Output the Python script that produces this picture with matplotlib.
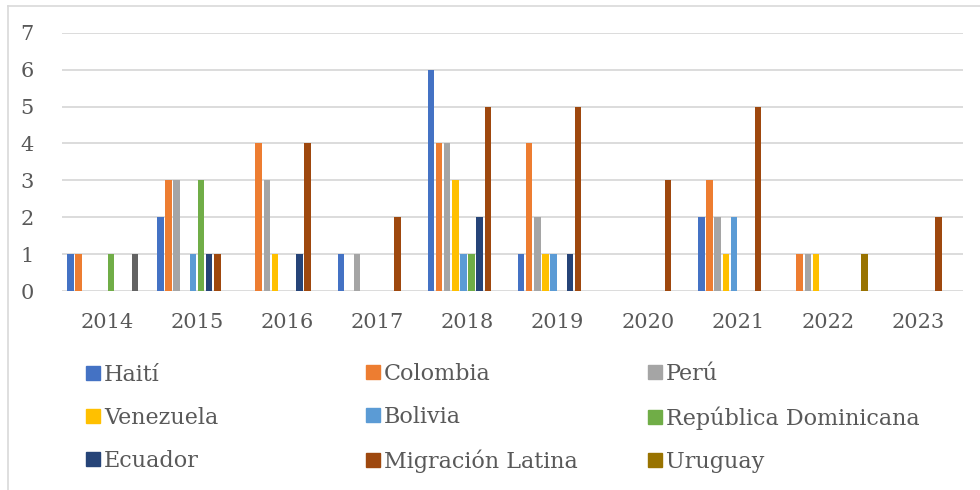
import numpy as np
import matplotlib.pyplot as plt
from matplotlib.lines import Line2D

years = ['2014', '2015', '2016', '2017', '2018', '2019', '2020', '2021', '2022', '2023']

# series in Excel order; 'Otro' is the unlabeled dark gray series
series_names = ['Haití', 'Colombia', 'Perú', 'Venezuela', 'Bolivia',
                'República Dominicana', 'Ecuador', 'Migración Latina', 'Otro', 'Uruguay']
series_colors = ['#4472C4', '#ED7D31', '#A5A5A5', '#FFC000', '#5B9BD5',
                 '#70AD47', '#264478', '#9E480E', '#636363', '#997300']

haiti     = [1, 2, 0, 1, 6, 1, 0, 2, 0, 0]
colombia  = [1, 3, 4, 0, 4, 4, 0, 3, 1, 0]
peru      = [0, 3, 3, 1, 4, 2, 0, 2, 1, 0]
venezuela = [0, 0, 1, 0, 3, 1, 0, 1, 1, 0]
bolivia   = [0, 1, 0, 0, 1, 1, 0, 2, 0, 0]
rep_dom   = [1, 3, 0, 0, 1, 0, 0, 0, 0, 0]
ecuador   = [0, 1, 1, 0, 2, 1, 0, 0, 0, 0]
migracion = [0, 1, 4, 2, 5, 5, 3, 5, 0, 2]
otro      = [1, 0, 0, 0, 0, 0, 0, 0, 0, 0]
uruguay   = [0, 0, 0, 0, 0, 0, 0, 0, 1, 0]

values = [haiti, colombia, peru, venezuela, bolivia,
          rep_dom, ecuador, migracion, otro, uruguay]

txt = '#595959'
plt.rcParams['font.family'] = ['DejaVu Serif']

fig = plt.figure(figsize=(9.8, 4.9), dpi=100)
ax = fig.add_axes([0.063, 0.406, 0.92, 0.527])

x = np.arange(len(years))
step = 0.09
for i, (vals, col) in enumerate(zip(values, series_colors)):
    ax.bar(x + (i - 4.5) * step, vals, width=0.072, color=col, zorder=3)

ax.set_xlim(-0.5, len(years) - 0.5)
ax.set_ylim(0, 7)
ax.set_yticks(range(0, 8))
ax.set_xticks(x)
ax.set_xticklabels(years)
ax.tick_params(length=0, labelsize=15, colors=txt)
ax.tick_params(axis='x', pad=16)
ax.tick_params(axis='y', pad=20)
ax.grid(axis='y', color='#D9D9D9', linewidth=1.3, zorder=0)
for s in ax.spines.values():
    s.set_visible(False)

# legend: 3 equal-width columns, filled row by row
shown = [i for i, n in enumerate(series_names) if n != 'Otro']
col_x = [86, 366, 648]
for c in range(3):
    idx = [shown[r * 3 + c] for r in range(3)]
    handles = [Line2D([], [], marker='s', linestyle='', markersize=9.5,
                      markerfacecolor=series_colors[i], markeredgecolor=series_colors[i])
               for i in idx]
    fig.legend(handles, [series_names[i] for i in idx], loc='center left',
               bbox_to_anchor=(col_x[c] / 980, 1 - 418 / 490),
               frameon=False, fontsize=16, labelcolor=txt, handlelength=0.6,
               handletextpad=0.2, labelspacing=0.95, borderpad=0,
               borderaxespad=0)

# chart area border
fig.add_artist(Line2D([8 / 980, 1.0], [1 - 6 / 490, 1 - 6 / 490],
                      color='#D9D9D9', linewidth=1.2))
fig.add_artist(Line2D([8 / 980, 8 / 980], [0, 1 - 6 / 490],
                      color='#D9D9D9', linewidth=1.2))

fig.savefig('out.png', dpi=100)
